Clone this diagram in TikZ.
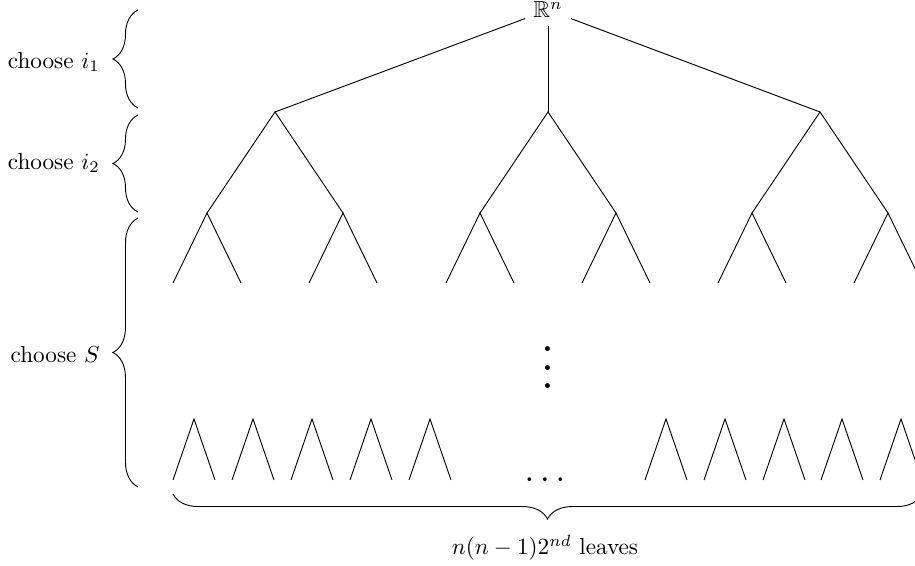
\documentclass[tikz,border=0pt]{standalone}
\usepackage{amssymb}
\usetikzlibrary{decorations.pathreplacing}
\begin{document}
\begin{tikzpicture}[x=0.431pt,y=-0.431pt,
  edge/.style={line width=0.4pt},
  bracestyle/.style={decorate,decoration={brace,amplitude=10.8pt},line width=0.4pt},
  lbl/.style={anchor=east}]
\clip (0,0) rectangle (915,566);
% root
\node[anchor=base] (root) at (548,18) {$\mathbb{R}^n$};
% level 1
\coordinate (a1) at (275,112);
\coordinate (a2) at (548,112);
\coordinate (a3) at (820,112);
\draw[edge] (root) -- (a1);
\draw[edge] (root) -- (a2);
\draw[edge] (root) -- (a3);
% level 2
\foreach \p/\x in {a1/275,a2/548,a3/820}{
  \coordinate (\p l) at ({\x-68},213);
  \coordinate (\p r) at ({\x+68},213);
  \draw[edge] (\p l) -- (\p) -- (\p r);
}
% level 3
\foreach \p/\x in {a1l/207,a1r/343,a2l/480,a2r/616,a3l/752,a3r/888}{
  \coordinate (\p l) at ({\x-34},283);
  \coordinate (\p r) at ({\x+34},283);
  \draw[edge] (\p l) -- (\p) -- (\p r);
}
% bottom small trees
\foreach \i/\x in {1/194,2/253,3/312,4/371,5/430,6/666,7/725,8/784,9/842,10/901}{
  \coordinate (t\i) at (\x,419);
  \coordinate (t\i l) at ({\x-21},480);
  \coordinate (t\i r) at ({\x+21},480);
  \draw[edge] (t\i l) -- (t\i) -- (t\i r);
}
% dots
\node[scale=2,anchor=base] (vd) at (548,389) {$\vdots$};
\node[scale=1.5,anchor=base] (hd) at (545,482) {$\ldots$};
% left braces
\coordinate (b1s) at (138,108); \coordinate (b1e) at (138,10);
\coordinate (b2s) at (138,212); \coordinate (b2e) at (138,115);
\coordinate (b3s) at (138,487); \coordinate (b3e) at (138,218);
\draw[bracestyle] (b1s) -- (b1e);
\draw[bracestyle] (b2s) -- (b2e);
\draw[bracestyle] (b3s) -- (b3e);
\node[lbl] (l1) at (108,62) {choose $i_1$};
\node[lbl] (l2) at (108,163) {choose $i_2$};
\node[lbl] (l3) at (108,355) {choose $S$};
% bottom brace
\coordinate (b4s) at (922,494); \coordinate (b4e) at (173,494);
\draw[bracestyle] (b4s) -- (b4e);
\node (l4) at (545,548) {$n(n-1)2^{nd}$ leaves};
\end{tikzpicture}
\end{document}
